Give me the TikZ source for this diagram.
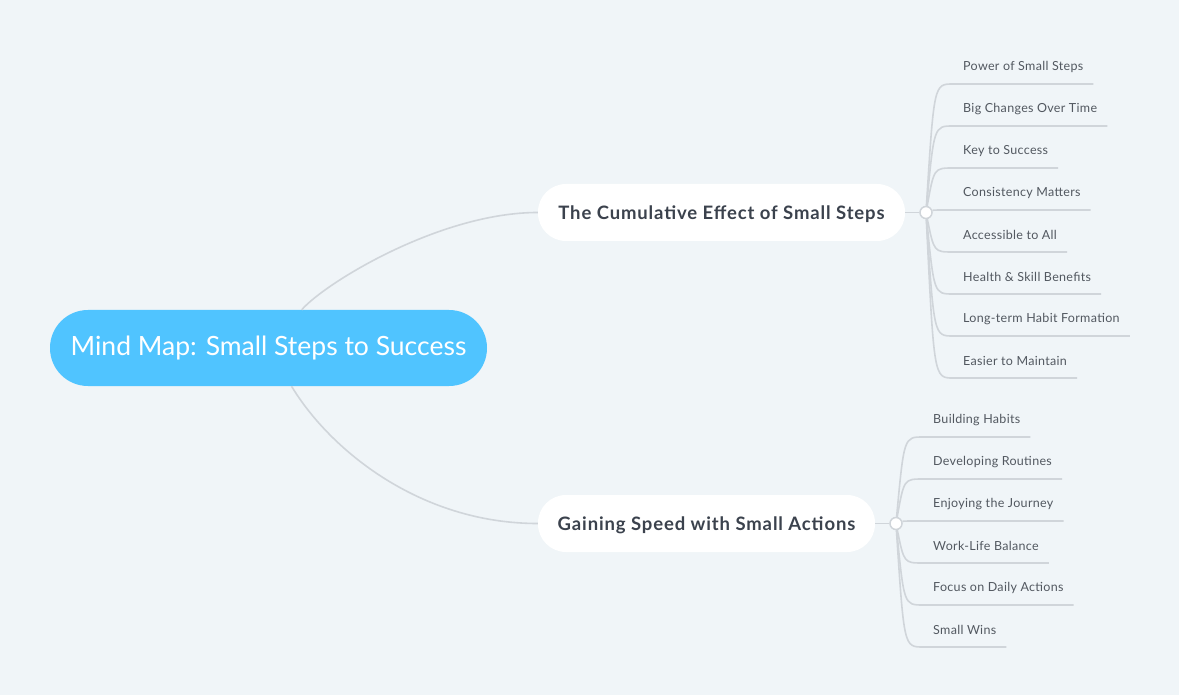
\documentclass[tikz,border=0pt]{standalone}
\usepackage{fontspec}
\setmainfont{Lato}
\definecolor{paper}{RGB}{240,245,248}
\definecolor{sky_blue}{RGB}{80,196,255}
\definecolor{twig_grey}{RGB}{208,213,218}
\definecolor{ink}{RGB}{59,66,77}
\definecolor{leaf_ink}{RGB}{82,88,96}

\begin{document}
\begin{tikzpicture}[x=1pt,y=-1pt,
	twig/.style={draw=twig_grey,line width=1.6pt},
	branch/.style={rectangle,rounded corners=28pt,fill=white,minimum height=57pt,text=ink,text height=18pt,text depth=3.5pt,font=\fontsize{18.5}{22}\selectfont\bfseries\addfontfeatures{LetterSpace=4.7}},
	leaf/.style={anchor=south west,inner xsep=10pt,inner ysep=0pt,minimum height=33pt,text=leaf_ink,font=\fontsize{12.5}{14}\selectfont\addfontfeatures{LetterSpace=2.5}},
	knot/.style={circle,draw=twig_grey,line width=1.5pt,fill=white,inner sep=0pt,minimum size=12pt}]
	\fill[paper] (0,0) rectangle (1179,695);
	\useasboundingbox (0,0) rectangle (1179,695);
	
	\node[rectangle,rounded corners=37.9pt,fill=sky_blue,text=white,minimum width=437pt,minimum height=76pt,font=\fontsize{26.5}{30}\selectfont] (root) at (268.5,348) {Mind Map: Small Steps to Success};
	\node[branch,minimum width=367pt] (cumulative) at (721.5,212.5) {The Cumulative Effect of Small Steps};
	\node[branch,minimum width=337pt] (speed) at (706.5,523.5) {Gaining Speed with Small Actions};
	\node[knot] (k1) at (926,212.5) {};
	\node[knot] (k2) at (896,523.5) {};
	
	\node[leaf] (c1) at (953,84) {Power of Small Steps};
	\node[leaf] (c2) at (953,126) {Big Changes Over Time};
	\node[leaf] (c3) at (953,168) {Key to Success};
	\node[leaf] (c4) at (953,210) {Consistency Matters};
	\node[leaf] (c5) at (953,252) {Accessible to All};
	\node[leaf] (c6) at (953,294) {Health \& Skill Benefits};
	\node[leaf] (c7) at (953,336) {Long-term Habit Formation};
	\node[leaf] (c8) at (953,378) {Easier to Maintain};
	
	\node[leaf] (s1) at (923,437) {Building Habits};
	\node[leaf] (s2) at (923,479) {Developing Routines};
	\node[leaf] (s3) at (923,521) {Enjoying the Journey};
	\node[leaf] (s4) at (923,563) {Work-Life Balance};
	\node[leaf] (s5) at (923,605) {Focus on Daily Actions};
	\node[leaf] (s6) at (923,647) {Small Wins};
	
	\draw[twig] (root) .. controls (325,283) and (440,212.5) .. (cumulative.west);
	\draw[twig] (root) .. controls (330,450) and (420,523.5) .. (speed.west);
	\draw[twig] (cumulative) -- (k1);
	\draw[twig] (speed) -- (k2);
	
	\foreach \x/\y in {c1/84,c2/126,c3/168,c4/210,c5/252,c6/294,c7/336,c8/378}
		\draw[twig] (k1) .. controls (934,\y) and (934,\y) .. (\x.south west) -- (\x.south east);
	\foreach \x/\y in {s1/437,s2/479,s3/521,s4/563,s5/605,s6/647}
		\draw[twig] (k2) .. controls (904,\y) and (904,\y) .. (\x.south west) -- (\x.south east);
\end{tikzpicture}
\end{document}
